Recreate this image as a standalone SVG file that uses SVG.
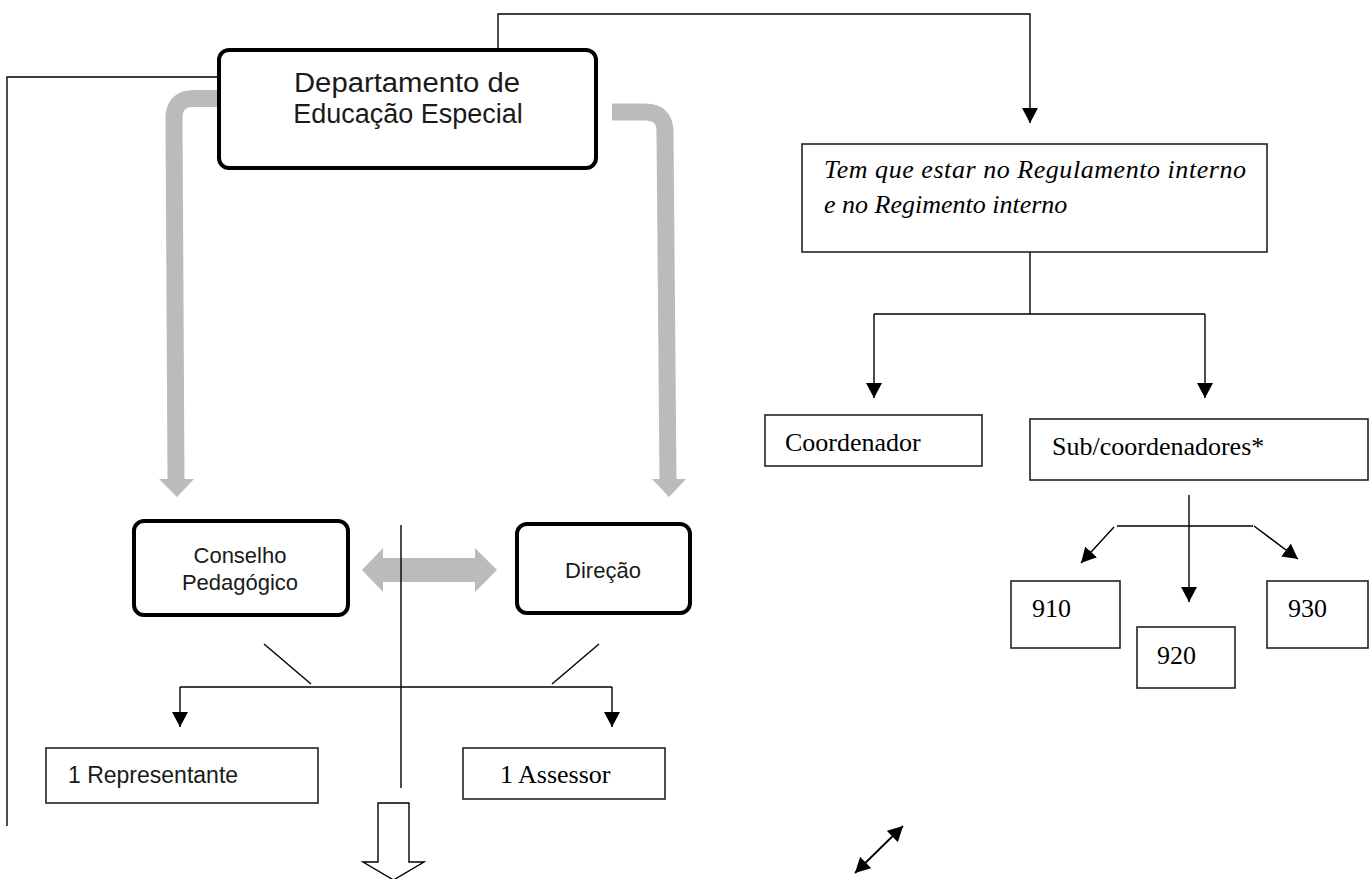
<svg xmlns="http://www.w3.org/2000/svg" width="1369" height="879" viewBox="0 0 1369 879">
<style>
.rbox{fill:#fff;stroke:#000;stroke-width:4}
.box{fill:#fff;stroke:#222;stroke-width:1.6}
.sans{font-family:"Liberation Sans",Arial,sans-serif;fill:#1a1a1a}
.serif{font-family:"Liberation Serif","Times New Roman",serif;fill:#000;font-size:26px}
.ln{fill:none;stroke:#000;stroke-width:1.4}
.arr{fill:none;stroke:#000;stroke-width:1.4;marker-end:url(#ah)}
.gray{fill:none;stroke:#bbbbbb;stroke-width:17}
.grayf{fill:#bbbbbb}
</style>
<defs>
<marker id="ah" viewBox="0 0 15 16" refX="15" refY="8" markerWidth="15" markerHeight="16" markerUnits="userSpaceOnUse" orient="auto-start-reverse">
<path d="M0,0 L15,8 L0,16 z" fill="#000"/>
</marker>
</defs>
<rect width="1369" height="879" fill="#fff"/>

<g id="gray-arrows">
<path class="gray" d="M222,98.5 H194 Q174,98.5 174,118 L176,480"/>
<polygon class="grayf" points="159,479 194,479 177,497"/>
<path class="gray" d="M612,112 H645 Q665,112 665,132 L668,480"/>
<polygon class="grayf" points="652,479 686,479 669,497"/>
<polygon class="grayf" points="362,570 383,548 383,558 475,558 475,548 497,570 475,592 475,582 383,582 383,592"/>
</g>

<g id="connectors">
<path class="ln" d="M248,77 H7 V826"/>
<path class="arr" d="M498,59 V14 H1030 V123"/>
<path class="ln" d="M1030,252 V314"/>
<path class="ln" d="M874,314 H1205"/>
<path class="arr" d="M874,314 V398"/>
<path class="arr" d="M1205,314 V398"/>
<path class="arr" d="M1189,495 V602"/>
<path class="ln" d="M1117,526 H1253"/>
<path class="arr" d="M1114,527 L1081,563"/>
<path class="arr" d="M1254,526 L1298,559"/>
<path class="ln" d="M264,644 L311,684"/>
<path class="ln" d="M599,644 L552,684"/>
<path class="ln" d="M180,687 H612"/>
<path class="arr" d="M180,687 V727"/>
<path class="arr" d="M612,687 V727"/>
<path class="ln" d="M401,525 V788"/>
<path d="M855,873 L903,826" fill="none" stroke="#000" stroke-width="1.8" marker-start="url(#ah)" marker-end="url(#ah)"/>
<polygon points="378,803 409,803 409,862 424,862 393.5,880 363,862 378,862" fill="#fff" stroke="#000" stroke-width="1.4"/>
</g>

<g id="dept">
<rect class="rbox" x="219" y="50" width="377" height="118" rx="10"/>
<text class="sans" font-size="27" text-anchor="middle" x="407" y="92" textLength="226" lengthAdjust="spacingAndGlyphs">Departamento de</text>
<text class="sans" font-size="27" text-anchor="middle" x="408" y="123">Educação Especial</text>
</g>

<g id="conselho">
<rect class="rbox" x="134" y="521" width="214" height="94" rx="10"/>
<text class="sans" font-size="22" text-anchor="middle" x="240" y="563">Conselho</text>
<text class="sans" font-size="22" text-anchor="middle" x="240" y="590">Pedagógico</text>
</g>

<g id="direcao">
<rect class="rbox" x="517" y="524" width="173" height="89" rx="10"/>
<text class="sans" font-size="22" text-anchor="middle" x="603" y="578">Direção</text>
</g>

<g id="representante">
<rect class="box" x="46" y="748" width="272" height="55"/>
<text class="sans" font-size="23" x="68" y="783">1 Representante</text>
</g>

<g id="assessor">
<rect class="box" x="463" y="748" width="202" height="51"/>
<text class="serif" x="500" y="783">1 Assessor</text>
</g>

<g id="regulamento">
<rect class="box" x="802" y="144" width="465" height="108"/>
<text class="serif" font-style="italic" x="824" y="178" textLength="422" lengthAdjust="spacing">Tem que estar no Regulamento interno</text>
<text class="serif" font-style="italic" x="824" y="213">e no Regimento interno</text>
</g>

<g id="coordenador">
<rect class="box" x="765" y="415" width="217" height="51"/>
<text class="serif" x="785" y="451">Coordenador</text>
</g>

<g id="subcoordenadores">
<rect class="box" x="1030" y="419" width="338" height="61"/>
<text class="serif" x="1052" y="455">Sub/coordenadores*</text>
</g>

<g id="n910">
<rect class="box" x="1011" y="581" width="109" height="67"/>
<text class="serif" x="1032" y="617">910</text>
</g>

<g id="n920">
<rect class="box" x="1137" y="627" width="98" height="61"/>
<text class="serif" x="1157" y="664">920</text>
</g>

<g id="n930">
<rect class="box" x="1267" y="581" width="101" height="67"/>
<text class="serif" x="1288" y="617">930</text>
</g>
</svg>
